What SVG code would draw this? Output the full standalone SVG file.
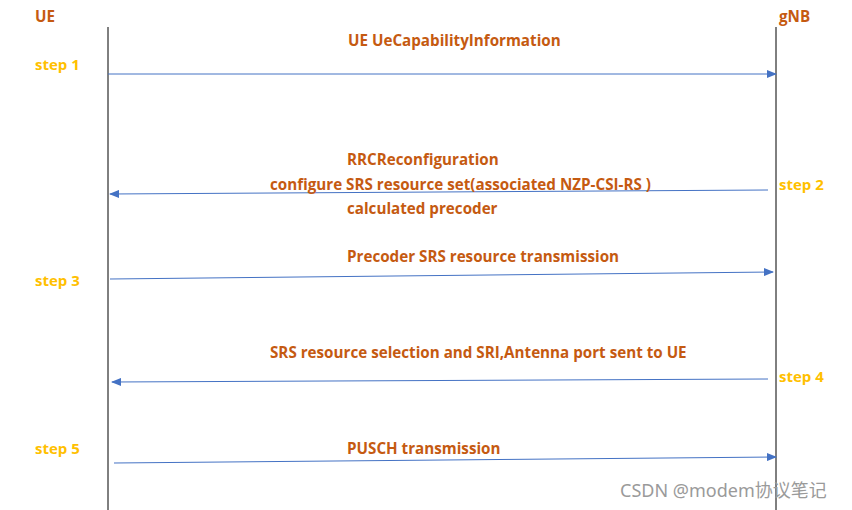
<svg xmlns="http://www.w3.org/2000/svg" width="852" height="510" viewBox="0 0 852 510">
<style>
.t{font-family:"Open Sans","Liberation Sans",sans-serif;font-weight:bold;font-size:15.2px;fill:#C55A11}
.s{font-family:"Open Sans","Liberation Sans",sans-serif;font-weight:bold;font-size:15px;fill:#FFC000}
.l{stroke:#000;stroke-width:1}
.a{stroke:#4472C4;stroke-width:1;fill:none;marker-end:url(#ah)}
</style>
<defs><marker id="ah" markerWidth="10" markerHeight="8" refX="9" refY="4" orient="auto" markerUnits="userSpaceOnUse"><path d="M0,0 L10,4 L0,8 z" fill="#4472C4"/></marker></defs>
<rect width="852" height="510" fill="#fff"/>
<g id="ue"><text class="t" x="35" y="22">UE</text><line class="l" x1="108" y1="27" x2="108" y2="510"/></g>
<g id="gnb"><text class="t" x="779" y="22">gNB</text><line class="l" x1="776" y1="27" x2="776" y2="510"/></g>
<g id="steps">
<text class="s" x="35" y="70">step 1</text>
<text class="s" x="779" y="190">step 2</text>
<text class="s" x="35" y="286">step 3</text>
<text class="s" x="779" y="382">step 4</text>
<text class="s" x="35" y="454">step 5</text>
</g>
<g id="connectors">
<line class="a" x1="108" y1="74" x2="776" y2="74"/>
<line class="a" x1="768" y1="190" x2="110" y2="194"/>
<line class="a" x1="110" y1="279" x2="773" y2="272"/>
<line class="a" x1="768" y1="379" x2="112" y2="382"/>
<line class="a" x1="114" y1="463" x2="776" y2="457"/>
</g>
<g id="labels">
<text class="t" x="348" y="46">UE UeCapabilityInformation</text>
<text class="t" x="347" y="165">RRCReconfiguration</text>
<text class="t" x="270" y="190">configure SRS resource set(associated NZP-CSI-RS )</text>
<text class="t" x="347" y="214">calculated precoder</text>
<text class="t" x="347" y="262">Precoder SRS resource transmission</text>
<text class="t" x="270" y="358">SRS resource selection and SRI,Antenna port sent to UE</text>
<text class="t" x="347" y="454">PUSCH transmission</text>
</g>
<text x="620" y="497" font-family="'Noto Sans','Noto Sans CJK SC',sans-serif" font-size="18" fill="#9a9a9a">CSDN @modem协议笔记</text>
</svg>
